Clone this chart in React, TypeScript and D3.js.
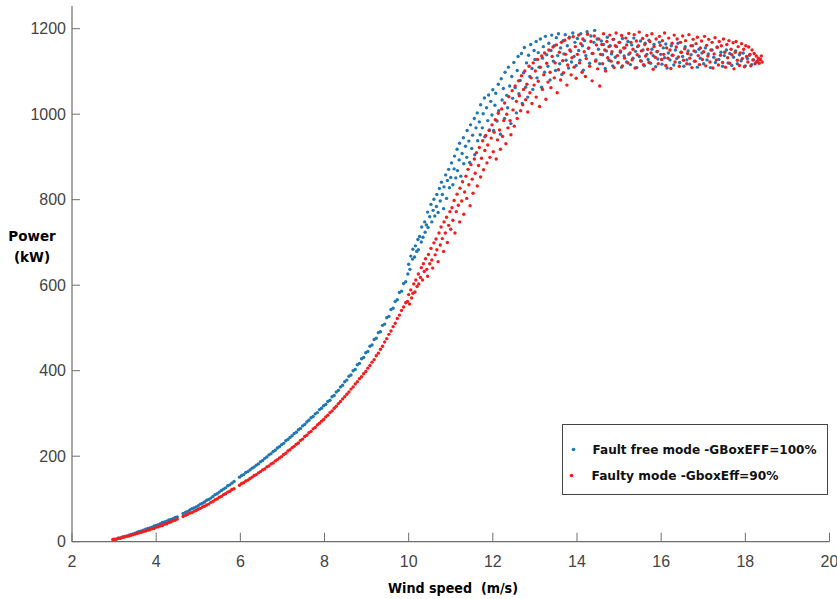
import React from "react";
import * as d3 from "d3";

// ---- data: [wind speed (m/s), power (kW)] ----
const blueLow: [number, number][] = [
  [3.0,5],[3.05,6],[3.1,8],[3.15,9],[3.2,11],[3.25,12],[3.3,13],[3.35,15],[3.4,17],[3.45,18],[3.5,20],[3.55,22],[3.6,24],[3.65,25],[3.7,27],[3.75,29],[3.8,31],[3.85,32],[3.9,34],[3.95,37],
  [4.0,38],[4.05,40],[4.1,42],[4.15,45],[4.2,46],[4.25,48],[4.3,51],[4.35,52],[4.4,54],[4.45,57],[4.5,58],
  [4.64,66],[4.7,69],[4.75,71],[4.8,74],[4.85,77],[4.9,79],[4.95,81],[5.0,84],[5.05,88],[5.1,90],[5.15,93],[5.2,97],[5.25,99],[5.3,102],[5.35,106],[5.4,110],[5.45,112],[5.5,116],[5.55,120],[5.6,123],[5.65,126],[5.7,131],[5.75,133],[5.8,137],[5.85,141],
  [5.98,151],[6.03,155],[6.08,157],[6.13,162],[6.18,164],[6.23,168],[6.28,172],[6.33,175],[6.38,179],[6.43,182],[6.48,187],[6.53,190],[6.58,195],[6.63,198],[6.68,203],[6.73,206],[6.78,211],[6.83,214],[6.88,219],[6.93,222],[6.98,227],
  [7.03,230],[7.08,236],[7.13,239],[7.18,244],[7.23,248],[7.28,253],[7.33,256],[7.38,262],[7.43,265],[7.48,271],[7.53,274],[7.58,280],[7.63,284],[7.68,290],[7.73,293],[7.78,299],[7.83,302],[7.88,309],[7.93,312],[7.98,318],
  [8.03,321],[8.08,328],[8.13,331],[8.18,339],[8.23,342],[8.28,350],[8.33,354],[8.38,362],[8.43,366],[8.48,374],[8.53,378],[8.58,387],[8.63,390],[8.68,400],[8.73,403],[8.78,414],[8.83,417],[8.88,428],[8.93,431],[8.98,442],
  [9.03,445],[9.08,457],[9.13,460],[9.18,473],[9.23,476],[9.28,489],[9.33,491],[9.38,506],[9.43,509],[9.48,524],[9.53,527],[9.58,543],[9.63,546],[9.68,562],[9.73,566],[9.78,583],[9.83,586],[9.88,604],[9.93,608],[9.98,626]
];
const blueHigh: [number, number][] = [
  [10.0,649],[10.03,637],[10.05,668],[10.09,661],[10.1,684],[10.14,666],[10.16,692],[10.19,679],[10.22,707],[10.23,683],[10.26,714],[10.3,701],[10.31,736],[10.34,712],[10.38,748],[10.39,724],[10.42,741],[10.45,771],[10.46,735],[10.5,760],[10.53,789],[10.55,748],[10.58,775],[10.6,801],[10.62,762],[10.66,784],[10.67,812],[10.7,770],[10.73,826],[10.75,797],[10.78,841],[10.8,812],[10.83,779],[10.84,830],[10.88,858],[10.9,803],[10.92,845],[10.95,871],[10.97,828],
  [11.0,852],[11.02,886],[11.05,835],[11.08,872],[11.09,902],[11.12,851],[11.15,918],[11.16,868],[11.2,893],[11.21,932],[11.24,855],[11.27,908],[11.3,945],[11.31,884],[11.35,925],[11.38,899],[11.39,962],[11.43,937],[11.45,887],[11.47,975],[11.5,920],[11.52,951],[11.56,990],[11.57,905],[11.6,968],[11.63,1003],[11.64,938],[11.68,982],[11.7,952],[11.71,1022],[11.75,968],[11.77,1001],[11.8,1038],[11.81,947],[11.85,1015],[11.88,985],[11.9,1045],[11.92,963],[11.95,1030],[11.98,998],
  [12.0,1057],[12.02,962],[12.05,1021],[12.07,1049],[12.1,984],[12.13,1070],[12.14,1008],[12.18,953],[12.2,1083],[12.22,1033],[12.25,1060],[12.28,990],[12.29,1098],[12.33,1044],[12.35,1015],[12.37,1110],[12.4,1066],[12.43,978],[12.45,1088],[12.47,1037],[12.5,1121],[12.53,1062],[12.56,1003],[12.58,1102],[12.6,1135],[12.62,1048],[12.65,1079],[12.68,1142],[12.7,1025],[12.73,1097],[12.75,1156],[12.78,1063],[12.8,1120],[12.83,1040],[12.85,1138],[12.88,1088],[12.9,1163],[12.93,1107],[12.95,1058],[12.98,1149],
  [13.0,1128],[13.03,1170],[13.05,1085],[13.08,1144],[13.1,1110],[13.13,1176],[13.16,1063],[13.18,1131],[13.2,1158],[13.23,1098],[13.25,1182],[13.28,1139],[13.31,1112],[13.33,1166],[13.36,1080],[13.38,1149],[13.4,1185],[13.44,1124],[13.46,1160],[13.49,1102],[13.51,1179],[13.54,1137],[13.56,1188],[13.59,1118],[13.61,1155],[13.64,1093],[13.67,1172],[13.69,1141],[13.72,1186],[13.74,1126],[13.77,1160],[13.8,1108],[13.82,1180],[13.85,1147],[13.87,1122],[13.9,1190],[13.93,1135],[13.95,1168],[13.98,1114],
  [14.01,1177],[14.04,1149],[14.07,1126],[14.09,1188],[14.13,1160],[14.15,1103],[14.18,1172],[14.21,1137],[14.24,1193],[14.27,1154],[14.3,1119],[14.33,1183],[14.36,1142],[14.4,1168],[14.42,1196],[14.45,1127],[14.48,1176],
  [14.51,1152],[14.54,1118],[14.58,1171],[14.61,1139],[14.63,1163],[14.67,1107],[14.7,1148],[14.72,1180],[14.76,1126],[14.79,1160],[14.82,1141],[14.85,1113],[14.87,1175],[14.91,1133],[14.94,1158],[14.97,1120],
  [15.0,1168],[15.03,1145],[15.06,1110],[15.08,1177],[15.12,1136],[15.14,1155],[15.18,1122],[15.21,1170],[15.23,1140],[15.27,1116],[15.3,1162],[15.33,1131],[15.35,1178],[15.39,1147],[15.42,1109],[15.44,1158],[15.48,1135],[15.51,1171],[15.53,1124],[15.57,1150],[15.6,1113],[15.62,1166],[15.66,1140],[15.69,1128],[15.71,1173],[15.75,1119],[15.78,1152],[15.81,1137],[15.83,1163],[15.87,1111],[15.9,1146],[15.92,1129],[15.96,1168],[15.99,1140],
  [16.02,1117],[16.05,1155],[16.08,1132],[16.11,1164],[16.14,1108],[16.17,1143],[16.21,1127],[16.24,1160],[16.26,1138],[16.3,1115],[16.34,1150],[16.37,1130],[16.4,1166],[16.44,1121],[16.47,1145],[16.51,1135],[16.54,1112],[16.57,1158],[16.61,1127],[16.64,1148],[16.68,1117],[16.71,1139],[16.75,1160],[16.79,1124],[16.82,1146],[16.86,1110],[16.9,1152],[16.93,1131],[16.97,1143],
  [17.01,1118],[17.05,1155],[17.09,1127],[17.12,1141],[17.17,1109],[17.21,1150],[17.25,1133],[17.29,1121],[17.33,1157],[17.37,1128],[17.42,1145],[17.46,1112],[17.5,1137],[17.55,1150],[17.59,1120],[17.63,1142],[17.68,1114],[17.72,1133],[17.77,1148],[17.81,1118],[17.86,1139],[17.9,1125],[17.95,1143],
  [18.0,1113],[18.05,1130],[18.1,1138],[18.15,1116],[18.2,1127],[18.26,1121],[18.31,1126]
];
const redLow: [number, number][] = [
  [2.97,5],[3.0,6],[3.05,6],[3.1,8],[3.15,8],[3.2,10],[3.25,11],[3.3,13],[3.35,13],[3.4,15],[3.45,16],[3.5,18],[3.55,19],[3.6,21],[3.65,22],[3.7,24],[3.75,25],[3.8,27],[3.85,28],[3.9,30],[3.95,31],
  [4.0,34],[4.05,35],[4.1,37],[4.15,38],[4.2,41],[4.25,42],[4.3,45],[4.35,46],[4.4,49],[4.45,50],[4.5,53],
  [4.64,59],[4.7,62],[4.75,64],[4.8,67],[4.85,68],[4.9,71],[4.95,73],[5.0,76],[5.05,78],[5.1,81],[5.15,83],[5.2,86],[5.25,88],[5.3,92],[5.35,94],[5.4,98],[5.45,100],[5.5,104],[5.55,106],[5.6,110],[5.65,112],[5.7,116],[5.75,118],[5.8,122],[5.85,124],
  [5.98,132],[6.03,136],[6.08,138],[6.13,142],[6.18,144],[6.23,148],[6.28,151],[6.33,155],[6.38,157],[6.43,161],[6.48,164],[6.53,168],[6.58,170],[6.63,175],[6.68,177],[6.73,182],[6.78,184],[6.83,189],[6.88,192],[6.93,196],[6.98,199],
  [7.03,204],[7.08,207],[7.13,212],[7.18,215],[7.23,220],[7.28,223],[7.33,228],[7.38,231],[7.43,237],[7.48,240],[7.53,246],[7.58,249],[7.63,255],[7.68,258],[7.73,264],[7.78,267],[7.83,273],[7.88,277],[7.93,282],[7.98,286],
  [8.03,292],[8.08,296],[8.13,302],[8.18,306],[8.23,312],[8.28,317],[8.33,323],[8.38,328],[8.43,334],[8.48,339],[8.53,345],[8.58,350],[8.63,357],[8.68,362],[8.73,369],[8.78,374],[8.83,381],[8.88,386],[8.93,393],[8.98,398],
  [9.03,406],[9.08,412],[9.13,420],[9.18,426],[9.23,435],[9.28,441],[9.33,450],[9.38,457],[9.43,467],[9.48,475],[9.53,485],[9.58,493],[9.63,503],[9.68,511],[9.73,522],[9.78,530],[9.83,541],[9.88,549],[9.93,559]
];
const redHigh: [number, number][] = [
  [9.97,562],[10.0,578],[10.02,556],[10.05,589],[10.07,570],[10.1,581],[10.12,603],[10.15,584],[10.17,612],[10.2,597],[10.23,626],[10.24,603],[10.28,618],[10.3,641],[10.33,612],[10.35,650],[10.37,632],[10.4,662],[10.43,637],[10.45,621],[10.47,672],[10.5,650],[10.53,686],[10.55,659],[10.57,640],[10.6,699],[10.63,671],[10.65,708],[10.67,683],[10.7,655],[10.72,722],[10.75,694],[10.77,736],[10.8,709],[10.83,679],[10.84,748],[10.87,722],[10.9,759],[10.92,700],[10.95,740],[10.98,772],
  [11.0,731],[11.03,781],[11.05,752],[11.08,798],[11.1,722],[11.13,772],[11.15,813],[11.18,787],[11.21,748],[11.22,827],[11.26,797],[11.28,842],[11.31,766],[11.33,818],[11.36,855],[11.38,803],[11.41,871],[11.43,835],[11.46,786],[11.48,882],[11.51,848],[11.53,815],[11.56,895],[11.58,862],[11.61,910],[11.63,832],[11.66,880],[11.68,922],[11.71,853],[11.73,897],[11.76,938],[11.78,870],[11.81,915],[11.83,950],[11.86,886],[11.88,928],[11.91,962],[11.93,899],[11.96,944],[11.98,975],
  [12.01,912],[12.03,958],[12.06,987],[12.08,895],[12.11,940],[12.13,1002],[12.16,963],[12.18,918],[12.21,1012],[12.23,948],[12.26,985],[12.28,1026],[12.31,931],[12.33,1000],[12.36,968],[12.38,1041],[12.41,985],[12.43,952],[12.46,1055],[12.48,1010],[12.51,972],[12.53,1066],[12.56,1030],[12.58,990],[12.61,1078],[12.63,1043],[12.66,1008],[12.68,1090],[12.71,1022],[12.73,1058],[12.76,1101],[12.78,1034],[12.81,1070],[12.83,1005],[12.86,1112],[12.88,1050],[12.91,1085],[12.93,1025],[12.96,1120],[12.98,1068],
  [13.01,1101],[13.03,1040],[13.06,1128],[13.08,1077],[13.11,1018],[13.13,1110],[13.16,1136],[13.18,1058],[13.21,1092],[13.23,1143],[13.26,1035],[13.28,1119],[13.31,1075],[13.33,1150],[13.36,1098],[13.38,1062],[13.41,1135],[13.43,1157],[13.46,1085],[13.48,1120],[13.51,1162],[13.53,1050],[13.56,1104],[13.58,1145],[13.61,1080],[13.63,1168],[13.66,1125],[13.68,1097],[13.71,1173],[13.73,1140],[13.76,1068],[13.78,1115],[13.81,1178],[13.83,1150],[13.86,1092],[13.88,1132],[13.91,1181],[13.93,1110],[13.96,1158],[13.98,1084],
  [14.01,1140],[14.04,1185],[14.06,1120],[14.09,1165],[14.12,1098],[14.14,1176],[14.17,1146],[14.2,1088],[14.22,1130],[14.25,1187],[14.28,1155],[14.3,1112],[14.33,1170],[14.36,1078],[14.38,1142],[14.41,1183],[14.44,1124],[14.46,1162],[14.49,1106],
  [14.52,1176],[14.54,1066],[14.56,1140],[14.59,1163],[14.61,1118],[14.63,1188],[14.66,1150],[14.68,1101],[14.71,1170],[14.73,1132],[14.76,1158],[14.78,1185],[14.81,1124],[14.83,1146],[14.86,1175],[14.88,1109],[14.91,1160],[14.93,1190],[14.96,1137],[14.98,1121],
  [15.01,1168],[15.03,1148],[15.06,1184],[15.08,1113],[15.11,1155],[15.13,1131],[15.16,1178],[15.18,1162],[15.21,1120],[15.23,1189],[15.26,1143],[15.28,1168],[15.31,1127],[15.33,1152],[15.36,1186],[15.38,1108],[15.41,1171],[15.43,1139],[15.46,1160],[15.48,1192],[15.51,1125],[15.53,1148],[15.56,1177],[15.58,1116],[15.61,1163],[15.63,1136],[15.66,1184],[15.68,1152],[15.71,1121],[15.73,1170],[15.76,1143],[15.78,1188],[15.81,1105],[15.83,1158],[15.86,1133],[15.88,1176],[15.91,1147],[15.93,1118],[15.96,1182],[15.98,1161],
  [16.01,1128],[16.03,1172],[16.06,1140],[16.08,1190],[16.11,1114],[16.13,1155],[16.16,1131],[16.18,1178],[16.21,1150],[16.23,1107],[16.26,1166],[16.28,1138],[16.31,1185],[16.33,1122],[16.36,1157],[16.38,1176],[16.41,1134],[16.43,1112],[16.46,1168],[16.48,1145],[16.51,1183],[16.53,1126],[16.56,1153],[16.58,1172],[16.61,1118],[16.63,1142],[16.66,1186],[16.68,1131],[16.71,1160],[16.73,1109],[16.76,1175],[16.78,1148],[16.81,1124],[16.83,1165],[16.86,1180],[16.88,1137],[16.91,1116],[16.93,1155],[16.96,1171],[16.98,1128],
  [17.01,1146],[17.03,1182],[17.06,1113],[17.08,1161],[17.11,1136],[17.13,1175],[17.16,1122],[17.18,1150],[17.21,1168],[17.23,1108],[17.26,1141],[17.28,1179],[17.31,1127],[17.33,1156],[17.36,1115],[17.38,1170],[17.41,1138],[17.43,1160],[17.46,1121],[17.48,1176],[17.51,1145],[17.53,1110],[17.56,1163],[17.58,1132],[17.61,1172],[17.63,1119],[17.66,1152],[17.68,1139],[17.71,1167],[17.73,1106],[17.76,1145],[17.78,1170],[17.81,1126],[17.83,1158],[17.86,1114],[17.88,1143],[17.91,1165],[17.93,1130],[17.96,1152],[17.98,1111],
  [18.01,1160],[18.03,1135],[18.06,1122],[18.08,1157],[18.11,1140],[18.13,1113],[18.16,1150],[18.18,1127],[18.21,1142],[18.23,1118],[18.26,1136],[18.28,1124],[18.31,1131],[18.33,1119],[18.36,1128],[18.38,1136],[18.4,1122]
];

const xTicks = [2, 4, 6, 8, 10, 12, 14, 16, 18, 20];
const yTicks = [0, 200, 400, 600, 800, 1000, 1200];
const seriesNames = ["Fault free mode -GBoxEFF=100%", "Faulty mode -GboxEff=90%"];
const seriesColors = ["#1f77b4", "#f41c1c"];

export default function App() {
  const W = 837, H = 599;
  const x = d3.scaleLinear().domain([2, 20]).range([72, 829.5]);
  const y = d3.scaleLinear().domain([0, 1250]).range([541.7, 7.3]);
  const axisColor = "#6e6e6e";
  const tickFont = "'Liberation Sans Narrow', 'Arial Narrow', 'Liberation Sans', sans-serif";
  const titleFont = "'DejaVu Sans', Verdana, sans-serif";
  const blue = [...blueLow, ...blueHigh];
  const red = [...redLow, ...redHigh];
  const r = 1.7;
  return (
    <svg width={W} height={H} style={{ position: "absolute", left: 0, top: 0, background: "#fff" }}>
      <rect x={0} y={0} width={W} height={H} fill="#fff" />
      <g>
        {blue.map((d, i) => (
          <circle key={"b" + i} cx={x(d[0])} cy={y(d[1])} r={r} fill={seriesColors[0]} />
        ))}
      </g>
      <g>
        {red.map((d, i) => (
          <circle key={"r" + i} cx={x(d[0])} cy={y(d[1])} r={r} fill={seriesColors[1]} />
        ))}
      </g>
      <line x1={x(2)} x2={x(2)} y1={6} y2={y(0)} stroke={axisColor} strokeWidth={1.2} />
      <line x1={x(2)} x2={x(20)} y1={y(0)} y2={y(0)} stroke={axisColor} strokeWidth={1.2} />
      {yTicks.map((t) => (
        <g key={"yt" + t}>
          <line x1={x(2)} x2={x(2) + 8} y1={y(t)} y2={y(t)} stroke={axisColor} strokeWidth={1} />
          <text x={x(2) - 6} y={y(t) + 5.5} textAnchor="end" fontFamily={tickFont} fontSize={16} fill="#444">
            {t}
          </text>
        </g>
      ))}
      {xTicks.map((t) => (
        <g key={"xt" + t}>
          <line x1={x(t)} x2={x(t)} y1={y(0)} y2={y(0) - 9} stroke={axisColor} strokeWidth={1} />
          <text x={x(t)} y={566.5} textAnchor="middle" fontFamily={tickFont} fontSize={16} fill="#444">
            {t}
          </text>
        </g>
      ))}
      <text x={32} y={241} textAnchor="middle" fontFamily={titleFont} fontWeight="bold" fontSize={13.5} fill="#000">
        Power
      </text>
      <text x={32} y={262} textAnchor="middle" fontFamily={titleFont} fontWeight="bold" fontSize={13.5} fill="#000">
        (kW)
      </text>
      <text x={388} y={593} fontFamily={titleFont} fontWeight="bold" fontSize={13.5} fill="#000" textLength={130} lengthAdjust="spacingAndGlyphs" xmlSpace="preserve">
        {"Wind speed  (m/s)"}
      </text>
      <rect x={562.5} y={424.5} width={265} height={70} fill="#fff" stroke="#444" strokeWidth={1} />
      <circle cx={573.5} cy={449.5} r={1.8} fill={seriesColors[0]} />
      <circle cx={571.5} cy={475.5} r={1.8} fill={seriesColors[1]} />
      <text x={592.5} y={453.5} fontFamily={titleFont} fontWeight="bold" fontSize={12.5} fill="#111" textLength={224} lengthAdjust="spacingAndGlyphs">
        {seriesNames[0]}
      </text>
      <text x={591.5} y={479.5} fontFamily={titleFont} fontWeight="bold" fontSize={12.5} fill="#111" textLength={187} lengthAdjust="spacingAndGlyphs">
        {seriesNames[1]}
      </text>
    </svg>
  );
}
